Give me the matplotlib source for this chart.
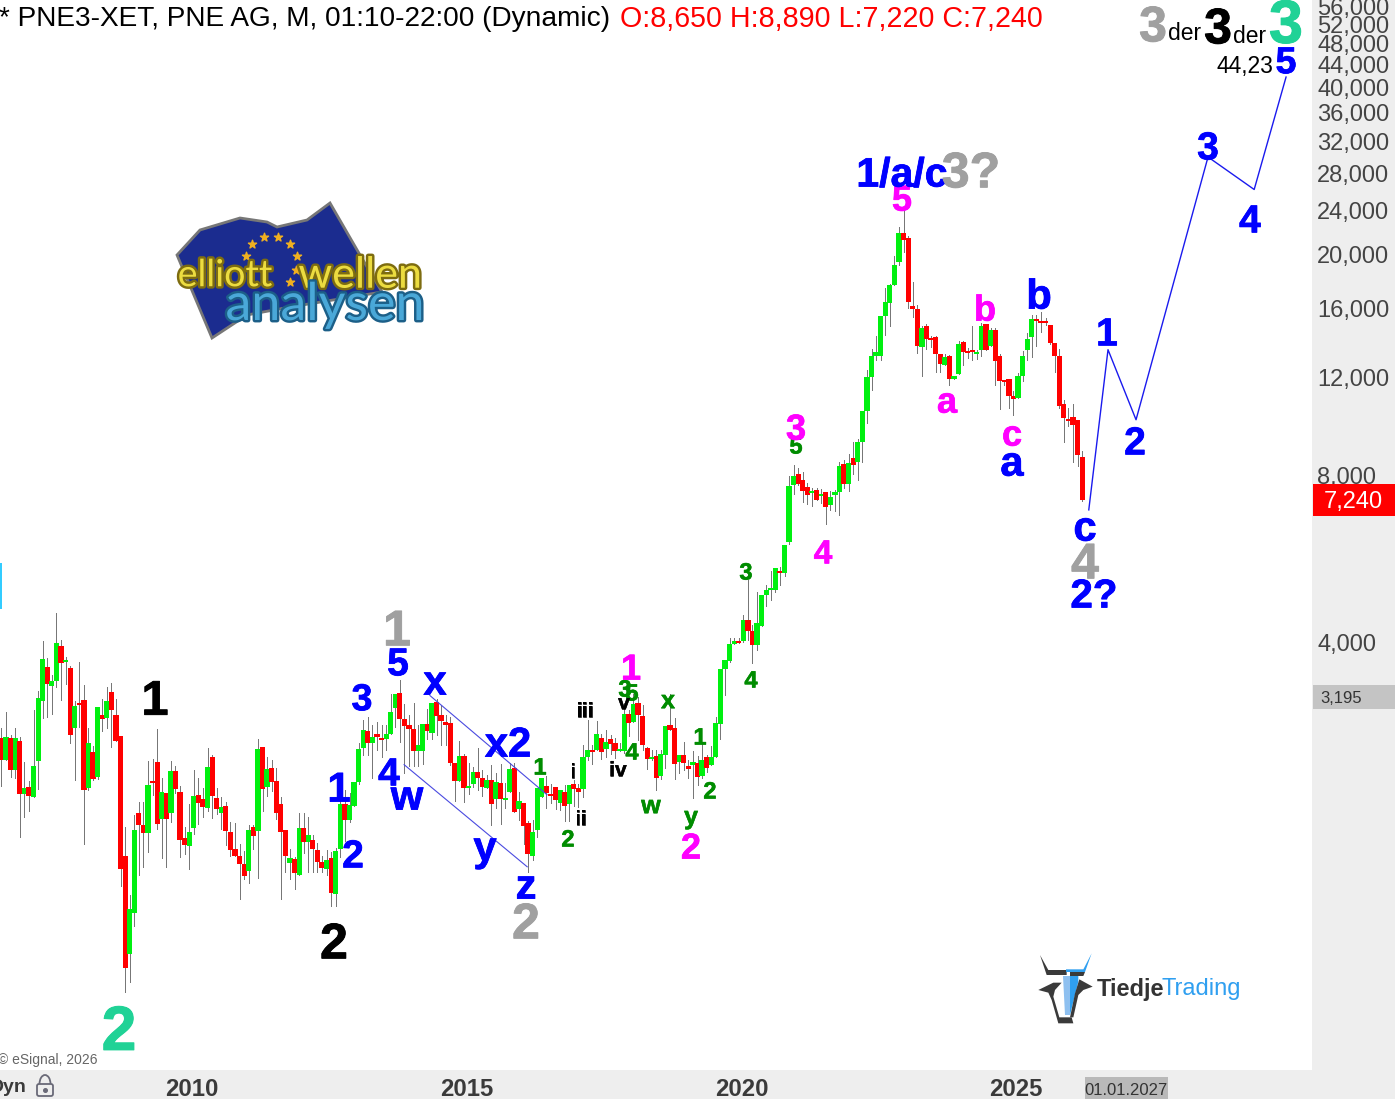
import matplotlib
matplotlib.use("Agg")
import matplotlib.pyplot as plt
from matplotlib.patches import Polygon, Rectangle, FancyBboxPatch, Arc
from matplotlib.transforms import ScaledTranslation
import matplotlib.patheffects as pe
import numpy as np

plt.rcParams['font.family'] = ['Liberation Sans', 'DejaVu Sans']

START_YEAR = 2006.533
body_top = [
 2701,2712,2701,2701,2667,2194,2204,2404,3189,3749,
 3625,3422,4000,3950,3734,3611,3084,3123,3162,2645,
 2548,3071,2971,3149,3270,2971,2723,1655,1327,1843,
 1976,1882,2222,2259,2444,2158,2149,2354,2354,2158,
 1783,1828,2122,2131,2095,2394,2495,2104,2028,2036,
 1828,1703,1655,1600,1843,1866,2579,2600,2374,2384,
 2259,2053,1843,1640,1634,1858,1858,1805,1768,1696,
 1614,1627,1640,1689,2053,2053,2045,2250,2579,2792,
 2780,2712,2747,2701,2747,3009,3243,3256,2922,2852,
 2804,2622,2863,2863,3123,3136,2971,2886,2875,2434,
 2507,2507,2213,2344,2344,2286,2268,2268,2250,2240,
 2104,2374,2384,2078,2062,1897,1828,2194,2286,2213,
 2140,2204,2176,2158,2222,2231,2194,2495,2569,2569,
 2747,2701,2656,2690,2645,2579,2984,2984,3110,3123,
 2959,2590,2495,2507,2528,2840,2852,2816,2517,2517,
 2404,2444,2434,2465,2495,2495,2875,3596,3734,3985,
 4033,4033,4401,4401,4205,4346,4884,4985,5025,5463,
 5395,6010,7680,8010,8075,7874,7645,7525,7554,7430,
 7495,7340,7495,8345,8415,8450,8630,9220,10490,12085,
 13180,13400,15570,16490,17700,19230,21960,21960,21520,16220,
 16020,14810,14880,14210,14270,13290,13130,13180,12140,13850,
 13970,13460,13514,13400,14940,15060,14686,14686,13180,11931,
 11980,11130,12140,13180,14150,15370,15370,15240,15240,15000,
 13910,13180,10800,10150,10230,10104,8650]
body_bottom = [
 2465,2465,2364,2364,2140,2140,2122,2113,2455,3149,
 3380,3352,3422,3688,3703,2735,2816,3098,2176,2194,
 2277,2296,2922,2935,3034,2667,1567,1038,1100,1305,
 1882,1820,1820,2240,1890,1929,1929,1976,2185,1768,
 1732,1725,1858,2062,2028,2019,2122,2011,1976,1835,
 1696,1655,1600,1522,1553,1798,1835,2185,2204,2250,
 1976,1828,1655,1607,1541,1528,1754,1754,1703,1614,
 1574,1567,1418,1412,1703,1921,1921,2036,2250,2590,
 2645,2645,2712,2678,2690,2747,3059,2922,2840,2804,
 2559,2559,2559,2780,2758,2959,2898,2852,2434,2259,
 2259,2194,2194,2231,2286,2204,2194,2053,2095,2095,
 2087,2158,1985,2011,1874,1668,1655,1843,2113,2149,
 2122,2087,2062,2036,2053,2185,2158,2185,2495,2548,
 2569,2548,2579,2633,2559,2559,2559,2875,2886,2971,
 2622,2475,2475,2286,2305,2517,2792,2424,2444,2434,
 2374,2414,2296,2305,2384,2414,2495,2863,3596,3718,
 3985,4000,4033,4205,3967,3967,4293,4884,4985,4985,
 5350,5350,6085,7715,7745,7525,7400,7465,7246,7370,
 7035,7095,7400,7495,7745,7745,8380,8485,9220,10490,
 12085,13180,13180,15570,16420,17700,19480,21346,16490,16020,
 13740,13680,14150,14088,13290,12750,12700,11980,11980,12230,
 13400,13340,13400,13290,13514,13514,13740,12910,11880,11830,
 11130,11030,11075,12140,13514,14270,15240,15120,15120,13910,
 13180,10710,10190,10060,9900,8740,7240]
wick_high = [
 2816,3009,2735,2816,2712,2444,2259,3034,3283,4033,
 3765,3509,4533,4050,3780,3640,3149,3703,3366,2816,
 2612,3071,3175,3339,3394,3175,2723,1866,1406,1960,
 2070,2070,2455,2475,2804,2286,2149,2455,2404,2213,
 1866,2053,2364,2286,2194,2590,2517,2194,2113,2070,
 1905,1897,1739,1689,1882,1882,2690,2600,2495,2465,
 2384,2113,1843,1703,1647,1976,1976,1945,1805,1746,
 1655,1696,1682,1710,2176,2176,2149,2250,2645,2910,
 2947,2852,2886,2852,2852,3243,3243,3436,3110,2971,
 3123,2852,2863,3046,3123,3175,3098,2971,2947,2434,
 2667,2528,2434,2394,2590,2364,2315,2414,2335,2424,
 2240,2434,2434,2158,2062,1913,1921,2194,2286,2305,
 2231,2204,2176,2222,2222,2268,2231,2622,2910,2622,
 2898,2747,2792,2735,2701,2645,3123,3034,3243,3202,
 3098,2600,2569,2569,2569,2840,3243,2935,2517,2656,
 2465,2559,2507,2633,2517,2612,2947,3596,3734,4085,
 4085,4085,4494,5197,4311,4943,4884,5090,5395,5463,
 5486,6010,8010,8380,8280,8140,7775,7615,7615,7585,
 7495,7525,7554,8485,8557,8770,9220,9335,10490,12437,
 13570,14330,15570,17490,17770,19970,22530,24180,21700,17930,
 16300,14940,15060,14330,14330,13290,13290,13240,12140,14030,
 14030,13630,14880,13514,15120,15060,14810,14810,13290,11931,
 11980,11400,12290,13460,14510,15630,15630,15830,15440,15000,
 13910,13570,10980,10620,10800,10104,8890]
wick_low = [
 2213,2465,2296,2286,1790,1945,1994,2113,2185,2935,
 2947,2984,3339,3162,3380,2645,2268,2828,1739,2176,
 2268,2277,2780,2816,2600,2667,1460,939,980,1237,
 1528,1580,1682,2131,1851,1640,1580,1905,2149,1647,
 1668,1567,1813,1890,1945,1994,1937,1968,1851,1732,
 1655,1655,1383,1503,1478,1703,1510,1994,2122,2167,
 1929,1383,1547,1503,1442,1528,1675,1547,1547,1547,
 1547,1528,1343,1343,1647,1761,1905,2036,2231,2517,
 2517,2286,2569,2495,2569,2747,2828,2656,2335,2404,
 2404,2404,2424,2690,2690,2735,2622,2622,2414,2078,
 2259,2070,2140,2204,2176,2122,2194,1882,2019,1890,
 2019,2158,1985,1921,1739,1547,1627,1790,2113,2019,
 2062,2011,2002,1913,1913,2036,2028,2113,2465,2424,
 2569,2475,2495,2528,2485,2559,2538,2723,2886,2678,
 2569,2374,2465,2176,2277,2384,2792,2277,2335,2364,
 2286,2104,2222,2286,2344,2414,2495,2690,3229,3703,
 3985,4000,4016,4050,3688,3893,4293,4660,4782,4943,
 5090,5285,6035,7430,7715,7185,7125,7065,7246,7155,
 6560,6951,6920,6805,7615,7525,8075,7874,8485,9980,
 11445,12965,12965,14380,14940,17700,19230,20310,16090,15500,
 13340,12140,13570,13680,12330,12330,12700,11650,11980,12230,
 12700,13070,12965,13020,13180,13514,13740,11650,10580,11690,
 10620,10320,11075,11880,12965,13130,13740,14560,15000,13850,
 12330,10620,9220,9860,8485,8345,7220]
candle_colors = list(
 "RGRGRGRGGG" "RGGRGRGRRG" "RGRGRRRRGG" "RRGRRGRGRR"
 "RGGRRGRRGR" "RRRRGRGRGR" "RRRGRGRGRR" "RGRGGRGGGG"
 "RGRRGGGRRR" "RGGRGRRRRR" "GRGGRRGRGR" "GGRGRRGGGR"
 "RRGRGRRGGR" "GRGRRGGRGR" "RRGRGGRRGR" "RGRGRGGGGG"
 "GRGRRGGGGG" "RGGGRRRGRG" "RGGGRGRGGG" "GGGGGGGRRR"
 "RGRRRRGRGG" "RRRGGRGRRR" "RRGGGGRRRR" "RRRRRRR")

forecast_years = [2026.32, 2026.67, 2027.18, 2028.49, 2029.33, 2029.91]
forecast_prices = [6951, 13514, 10104, 30070, 26275, 41900]
channel_upper_years, channel_upper_prices = [2014.33, 2016.46], [3216, 2131]
channel_lower_years, channel_lower_prices = [2013.86, 2016.10], [2414, 1580]

y_ticks = [4000, 8000, 12000, 16000, 20000, 24000, 28000, 32000, 36000,
           40000, 44000, 48000, 52000, 56000]
x_ticks = [2010, 2015, 2020, 2025]

W, H = 1395, 1099
PANEL = '#eeeeee'
BLUE, MAG, GRN, GRY, TEAL = '#0000ff', '#ff00ff', '#008c00', '#a0a0a0', '#20d296'

fig = plt.figure(figsize=(W/100, H/100), dpi=100, facecolor=PANEL)
ax = fig.add_axes([0, 29/H, 1312/W, 1070/H], facecolor='white')
ax.set_yscale('log', base=2)
ax.set_xlim(2010 - 192/54.95, 2010 + 1120/54.95)
ax.set_ylim(4000 * 2**(-427/167), 4000 * 2**(643/167))
for s in ax.spines.values():
    s.set_visible(False)

years = START_YEAR + np.arange(len(body_top)) / 12
top, bot = np.array(body_top, float), np.array(body_bottom, float)
cols = ['#00f010' if c == 'G' else '#ff0000' for c in candle_colors]
ax.vlines(years, wick_low, wick_high, color='#777777', lw=0.7, zorder=2, antialiased=False)
ax.bar(years, top - bot, bottom=bot, width=0.095, color=cols, lw=0, zorder=3, antialiased=False)

ax.plot(forecast_years, forecast_prices, color='#1a1aee', lw=1.0, zorder=4)
ax.plot(channel_upper_years, channel_upper_prices, color='#4a4ae0', lw=0.8, zorder=4)
ax.plot(channel_lower_years, channel_lower_prices, color='#4a4ae0', lw=0.8, zorder=4)

ax.yaxis.tick_right()
ax.set_yticks(y_ticks)
ax.set_yticklabels([f'{v:,}' for v in y_ticks])
ax.yaxis.set_minor_locator(matplotlib.ticker.NullLocator())
ax.tick_params(axis='y', length=0, pad=3.6, labelsize=17, labelcolor='#444444')
for lab in ax.get_yticklabels():
    lab.set_transform(lab.get_transform() + ScaledTranslation(0, 1/100, fig.dpi_scale_trans))
ax.set_xticks(x_ticks)
ax.set_xticklabels([str(v) for v in x_ticks], fontweight='bold')
ax.tick_params(axis='x', length=0, pad=5.5, labelsize=17.2, labelcolor='#3a3a3a')

# overlay in figure pixels for annotations and tags
ov = fig.add_axes([0, 0, 1, 1], facecolor='none')
ov.set_xlim(0, W); ov.set_ylim(H, 0); ov.axis('off')

def T(s, x, y, size, color='black', weight='bold', ha='center', va='center', **kw):
    return ov.text(x, y + 0.12*size, s, fontsize=size, color=color, fontweight=weight, ha=ha, va=va, **kw)

# header
T('* PNE3-XET, PNE AG, M, 01:10-22:00 (Dynamic)', -1, 17, 20.2, 'black', 'normal', ha='left')
T('O:8,650 H:8,890 L:7,220 C:7,240', 620, 17, 20.6, '#ff0000', 'normal', ha='left')

labels = [
 ('1',155,698,35,'black'),('2',119,1028,45,TEAL),('2',334,941,36,'black'),
 ('1',397,628,36,GRY),('2',526,921,36,GRY),
 ('5',398,662,28,BLUE),('3',362,697,27,BLUE),('1',339,787,30,BLUE),('2',353,854,28,BLUE),
 ('4',389,772,28,BLUE),('w',407,795,30,BLUE),('x',435,680,30,BLUE),('x2',508,742,30,BLUE),
 ('y',485,846,30,BLUE),('z',526,884,30,BLUE),
 ('1',540,766,17,GRN),('2',568,838,17,GRN),('3',625,688,17,GRN),('5',632,692,17,GRN),
 ('4',632,751,17,GRN),('x',668,699,18,GRN),('w',651,804,18,GRN),('y',691,815,18,GRN),
 ('1',700,736,17,GRN),('2',710,790,17,GRN),('3',746,571,17,GRN),('4',751,679,17,GRN),('5',796,445,17,GRN),
 ('i',573,771,15,'black'),('ii',581,818,15,'black'),('iii',585,710,15,'black'),
 ('iv',618,769,15,'black'),('v',624,702,15,'black'),
 ('1',631,667,26,MAG),('2',691,846,26,MAG),('3',796,427,26,MAG),('4',823,552,24,MAG),('5',902,198,26,MAG),
 ('a',947,400,26,MAG),('b',985,308,26,MAG),('c',1012,433,26,MAG),
 ('1/a/c',902,172,29.5,BLUE),('3?',971,170,36,GRY),
 ('b',1039,294,30,BLUE),('a',1012,461,30,BLUE),('1',1107,332,28,BLUE),('2',1135,441,28,BLUE),
 ('c',1085,526,30,BLUE),('4',1085,561,36,GRY),('2?',1094,593,29,BLUE),
 ('3',1208,146,28,BLUE),('4',1250,219,28,BLUE),('5',1286,60,27,BLUE),
 ('3',1153,24,36,GRY),('3',1218,26,36,'black'),('3',1286,22,44,TEAL),
]
for s, x, y, size, c in labels:
    T(s, x, y, size, c, zorder=6,
      path_effects=[pe.withStroke(linewidth=0.2 + size*0.012, foreground=c)])
T('der', 1185, 32, 16.5, 'black', 'normal')
T('der', 1250, 35, 16.5, 'black', 'normal')
T('44,23', 1245, 65, 16.5, 'black', 'normal')

# right-hand tags
ov.add_patch(Rectangle((1313, 484), 82, 32, fc='#ff0000', ec='none'))
T('7,240', 1353, 500, 17, 'white', 'normal')
ov.add_patch(Rectangle((1313, 685), 82, 24, fc='#c4c4c4', ec='none'))
T('3,195', 1320, 697, 12, '#333333', 'normal', ha='left')
ov.add_patch(Rectangle((1085, 1077), 83, 22, fc='#b9b9b9', ec='none'))
T('01.01.2027', 1126, 1089, 12, '#333333', 'normal')

# footer
T('© eSignal, 2026', -2, 1059, 10, '#666666', 'normal', ha='left')
T('Dyn', -10, 1086, 14, '#3a3a3a', 'bold', ha='left')
ov.add_patch(FancyBboxPatch((37, 1084), 16, 12, boxstyle='round,pad=0,rounding_size=2', fc='none', ec='#6a6a78', lw=1.3))
ov.add_patch(Arc((45, 1084), 11, 18, theta1=180, theta2=360, ec='#6a6a78', lw=1.3))
ov.plot([45], [1090], 'o', ms=2.6, color='#6a6a78')

# cyan remnant on left edge
ov.add_patch(Rectangle((0, 563), 1.5, 46, fc='#33ccff', ec='none'))

# Elliott-Wellen logo
flag = [(177,255),(200,230),(240,218),(267,222),(277,227),(307,220),(330,203),(360,255),
        (382,292),(290,307),(247,315),(212,338)]
ov.add_patch(Polygon(flag, closed=True, fc='#1b2c8f', ec='#777777', lw=2, zorder=3))
stars = [(252,244),(264,237),(278,237),(290,244),(297,256),(246,256),(296,270),(290,282)]
ov.scatter(*zip(*stars), marker='*', s=38, color='#f0b020', zorder=4)
T('elliott', 225, 272, 27, '#ecdc40', 'normal', zorder=5, family='Lato',
  path_effects=[pe.withStroke(linewidth=3.5, foreground='#7d6c10')])
T('wellen', 360, 272, 31, '#ecdc40', 'normal', zorder=5, family='Lato',
  path_effects=[pe.withStroke(linewidth=3.5, foreground='#7d6c10')])
T('analysen', 325, 301, 37.5, '#4aa8d8', 'normal', zorder=5, family='Lato',
  path_effects=[pe.withStroke(linewidth=3.5, foreground='#1c5f88')])

# Tiedje logo
def zp(pts):
    return [(1020 + x/3, 940 + y/3) for x, y in pts]
D, B, L = '#3a3a3a', '#2f9ff0', '#8ec0f0'
ov.add_patch(Polygon(zp([(60,45),(80,105),(140,105),(140,90),(85,90)]), fc=D, ec='none'))
ov.add_patch(Polygon(zp([(215,40),(190,88),(138,88),(138,96),(195,96)]), fc=B, ec='none'))
ov.add_patch(Polygon(zp([(150,96),(195,96),(190,108),(150,108)]), fc=D, ec='none'))
ov.add_patch(Polygon(zp([(55,150),(100,128),(125,128),(105,150),(100,170),(118,232),(155,232),(160,250),(115,250),(95,180),(85,158)]), fc=D, ec='none'))
ov.add_patch(Polygon(zp([(130,108),(150,108),(150,225),(135,225)]), fc=L, ec='none'))
ov.add_patch(Polygon(zp([(150,108),(175,108),(175,125),(150,225)]), fc=B, ec='none'))
ov.add_patch(Polygon(zp([(178,118),(218,140),(190,150),(175,165),(160,232),(150,232),(165,160)]), fc=D, ec='none'))
T('Tiedje', 1097, 987, 17, '#333333', 'bold', ha='left')
T('Trading', 1162, 987, 17, '#2f9ff0', 'normal', ha='left')

fig.savefig('out.png', dpi=100, facecolor=PANEL)
